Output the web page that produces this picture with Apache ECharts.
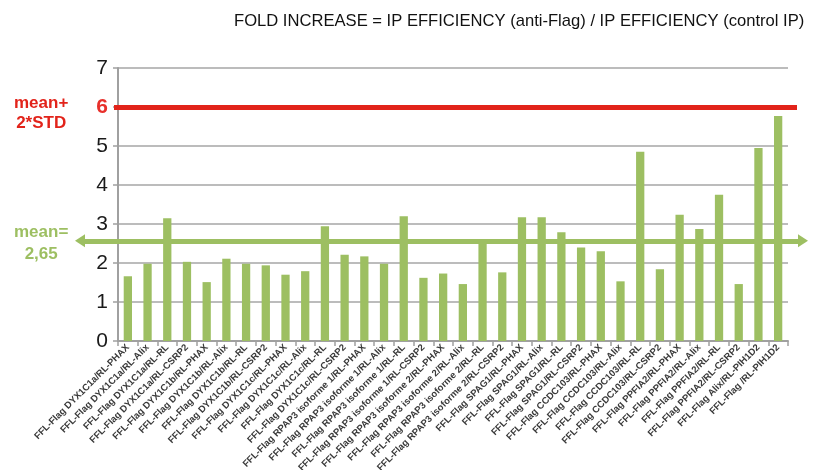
<!DOCTYPE html>
<html><head><meta charset="utf-8">
<script src="https://cdn.jsdelivr.net/npm/echarts@6/dist/echarts.min.js"></script>
<style>html,body{margin:0;padding:0;background:#fff}#c{width:814px;height:470px}</style>
</head><body><div id="c"></div>
<script>
const categories = [
  'FFL-Flag DYX1C1a/RL-PHAX','FFL-Flag DYX1C1a/RL-Alix','FFL-Flag DYX1C1a/RL-RL','FFL-Flag DYX1C1a/RL-CSRP2',
  'FFL-Flag DYX1C1b/RL-PHAX','FFL-Flag DYX1C1b/RL-Alix','FFL-Flag DYX1C1b/RL-RL','FFL-Flag DYX1C1b/RL-CSRP2',
  'FFL-Flag DYX1C1c/RL-PHAX','FFL-Flag DYX1C1c/RL-Alix','FFL-Flag DYX1C1c/RL-RL','FFL-Flag DYX1C1c/RL-CSRP2',
  'FFL-Flag RPAP3 isoforme 1/RL-PHAX','FFL-Flag RPAP3 isoforme 1/RL-Alix','FFL-Flag RPAP3 isoforme 1/RL-RL','FFL-Flag RPAP3 isoforme 1/RL-CSRP2',
  'FFL-Flag RPAP3 isoforme 2/RL-PHAX','FFL-Flag RPAP3 isoforme 2/RL-Alix','FFL-Flag RPAP3 isoforme 2/RL-RL','FFL-Flag RPAP3 isoforme 2/RL-CSRP2',
  'FFL-Flag SPAG1/RL-PHAX','FFL-Flag SPAG1/RL-Alix','FFL-Flag SPAG1/RL-RL','FFL-Flag SPAG1/RL-CSRP2',
  'FFL-Flag CCDC103/RL-PHAX','FFL-Flag CCDC103/RL-Alix','FFL-Flag CCDC103/RL-RL','FFL-Flag CCDC103/RL-CSRP2',
  'FFL-Flag PPFIA2/RL-PHAX','FFL-Flag PPFIA2/RL-Alix','FFL-Flag PPFIA2/RL-RL','FFL-Flag PPFIA2/RL-CSRP2',
  'FFL-Flag Alix/RL-PIH1D2','FFL-Flag /RL-PIH1D2'
];
const foldIncrease = [
  1.66, 1.98, 3.15, 2.03,
  1.51, 2.11, 1.98, 1.94,
  1.70, 1.79, 2.94, 2.21,
  2.17, 1.98, 3.20, 1.62,
  1.73, 1.46, 2.53, 1.76,
  3.17, 3.17, 2.79, 2.40,
  2.30, 1.53, 4.85, 1.84,
  3.24, 2.87, 3.75, 1.46,
  4.95, 5.77
];
const yTicks = { min: 0, max: 7, interval: 1 };
const meanLineValue = 2.57;
const thresholdValue = 6;
const titleText = 'FOLD INCREASE = IP EFFICIENCY (anti-Flag) / IP EFFICIENCY (control IP)';

const chart = echarts.init(document.getElementById('c'));
chart.setOption({
  animation: false,
  title: {
    text: titleText, left: 229, top: 8,
    textStyle: { fontFamily: 'Liberation Sans', fontSize: 16.6, fontWeight: 'normal', color: '#111' }
  },
  grid: { left: 118, right: 26, top: 68, bottom: 129, outerBoundsMode: 'none', containLabel: false },
  xAxis: {
    type: 'category', data: categories,
    axisLine: { lineStyle: { color: '#a0a0a0', width: 2 } },
    axisTick: { show: true, length: 5, lineStyle: { color: '#a0a0a0', width: 1.5 } },
    axisLabel: { interval: 0, rotate: 45, fontFamily: 'Liberation Sans', fontSize: 9.5, fontWeight: 'bold', color: '#3a3a3a', margin: 5 }
  },
  yAxis: {
    type: 'value', min: yTicks.min, max: yTicks.max, interval: yTicks.interval,
    axisLine: { show: true, lineStyle: { color: '#a0a0a0', width: 2 } },
    axisTick: { show: true, length: 5, lineStyle: { color: '#a0a0a0', width: 1.5 } },
    splitLine: { lineStyle: { color: '#a6a6a6', width: 1.5 } },
    axisLabel: {
      margin: 10,
      formatter: v => v === thresholdValue ? '{r|' + v + '}' : '{k|' + v + '}',
      rich: {
        k: { fontFamily: 'Liberation Sans', fontSize: 21, color: '#1a1a1a' },
        r: { fontFamily: 'Liberation Sans', fontSize: 21, color: '#e8302b', fontWeight: 'bold' }
      }
    }
  },
  series: [{
    type: 'bar', data: foldIncrease, barWidth: '42%',
    itemStyle: { color: '#9dbf62' },
    markLine: {
      silent: true, animation: false, label: { show: false },
      data: [
        [
          { x: 114, yAxis: thresholdValue, symbol: 'none', lineStyle: { color: '#e2231a', width: 5, type: 'solid' } },
          { x: 797, yAxis: thresholdValue, symbol: 'none' }
        ],
        [
          { x: 80, yAxis: meanLineValue, symbol: 'triangle', symbolSize: [13, 10], lineStyle: { color: '#9dbf62', width: 5, type: 'solid' } },
          { x: 803, yAxis: meanLineValue, symbol: 'triangle', symbolSize: [13, 10] }
        ]
      ]
    }
  }],
  graphic: [
    { type: 'text', left: 14, top: 93, style: { text: 'mean+\n2*STD', fill: '#e2231a', font: 'bold 17px Liberation Sans', textAlign: 'center', lineHeight: 20, x: 30 } },
    { type: 'text', left: 14, top: 221, style: { text: 'mean=\n2,65', fill: '#9dbf62', font: 'bold 17px Liberation Sans', textAlign: 'center', lineHeight: 22, x: 30 } }
  ]
});
</script></body></html>
